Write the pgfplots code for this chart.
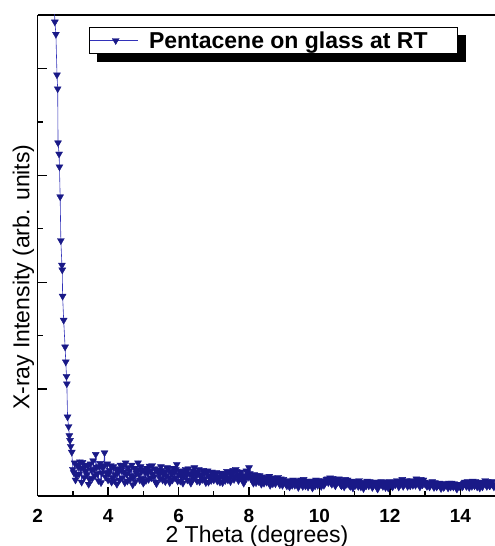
\documentclass[border=0pt]{standalone}
\usepackage{fontspec}
\setmainfont{Liberation Sans}
\usepackage{pgfplots}
\pgfplotsset{compat=1.18}

\definecolor{xrdmark}{RGB}{25,25,135}
\definecolor{xrdline}{RGB}{50,50,185}

\begin{document}
\begin{tikzpicture}
\begin{axis}[
  scale only axis, width=457pt, height=481pt,
  xmin=2, xmax=14.97, ymin=0, ymax=9,
  axis x line=box, axis y line=left,
  axis line style={-, line width=1.6pt},
  xtick={2,4,...,14}, minor x tick num=1,
  ytick={2,4,6,8}, minor y tick num=1, yticklabels={},
  xtick pos=bottom, ytick pos=left,
  tick align=inside,
  major tick length=9pt, minor tick length=5pt,
  every tick/.style={black, line width=1.4pt},
  /pgf/number format/assume math mode=true,
  x tick label style={font=\fontsize{19}{19}\selectfont\bfseries, inner ysep=1pt, yshift=-12pt},
  xlabel={2 Theta (degrees)},
  ylabel={X-ray Intensity (arb. units)},
  xlabel style={font=\fontsize{23}{23}\selectfont, inner sep=0pt, at={(axis description cs:0.48,0)}, anchor=north, yshift=-30pt},
  ylabel style={font=\fontsize{23}{23}\selectfont, at={(axis description cs:0,0.457)}, anchor=south, xshift=-1pt},
  legend style={name=legbox, at={(axis description cs:0.1125,0.975)}, anchor=north west,
    draw=black, line width=0.8pt, fill=white, inner xsep=0pt, inner ysep=2pt,
    font=\fontsize{23}{25}\selectfont\bfseries,
    /tikz/every odd column/.append style={column sep=5pt}},
  legend image code/.code={\draw[mark repeat=2, mark phase=2]
    plot coordinates {(0pt,0pt) (26pt,0pt) (48pt,0pt)}; \path (52pt,0pt);},
]
\coordinate (ll) at (rel axis cs:0,0);
\coordinate (ur) at (rel axis cs:1,1);
\addplot[color=xrdline, line width=0.6pt, mark=triangle*, mark size=4pt,
  mark options={rotate=180, fill=xrdmark, draw=xrdmark, line width=0.4pt}]
  coordinates {
  (2.45,9.70) (2.47,9.25) (2.49,8.87) (2.52,8.64) (2.55,7.88) (2.57,7.62)
  (2.58,6.61) (2.61,6.40) (2.62,6.16) (2.64,5.60) (2.66,4.78) (2.69,4.32)
  (2.70,4.23) (2.71,3.74) (2.74,3.29) (2.78,2.79) (2.80,2.51) (2.82,2.24)
  (2.83,2.10) (2.85,1.48) (2.88,1.30) (2.90,1.13) (2.92,1.04) (2.94,0.93)
  (2.97,0.82)
  (3.000,0.50) (3.025,0.44) (3.050,0.62) (3.075,0.30) (3.100,0.38) (3.125,0.58) (3.150,0.55) (3.175,0.41)
  (3.200,0.64) (3.225,0.52) (3.250,0.26) (3.275,0.63) (3.300,0.52) (3.325,0.35) (3.350,0.58) (3.375,0.47)
  (3.400,0.40) (3.425,0.56) (3.450,0.22) (3.475,0.31) (3.500,0.60) (3.525,0.49) (3.550,0.33) (3.575,0.66)
  (3.600,0.50) (3.625,0.38) (3.650,0.78) (3.675,0.54) (3.700,0.42) (3.725,0.29) (3.750,0.55) (3.775,0.61)
  (3.800,0.25) (3.825,0.43) (3.850,0.52) (3.875,0.57) (3.900,0.81) (3.925,0.36) (3.950,0.44) (3.975,0.60)
  (4.000,0.30) (4.025,0.42) (4.050,0.48) (4.075,0.57) (4.100,0.26) (4.125,0.35) (4.150,0.55) (4.175,0.29)
  (4.200,0.40) (4.225,0.51) (4.250,0.22) (4.275,0.44) (4.300,0.50) (4.325,0.30) (4.350,0.58) (4.375,0.48)
  (4.400,0.34) (4.425,0.56) (4.450,0.45) (4.475,0.25) (4.500,0.62) (4.525,0.41) (4.550,0.28) (4.575,0.53)
  (4.600,0.47) (4.625,0.31) (4.650,0.38) (4.675,0.58) (4.700,0.21) (4.725,0.36) (4.750,0.52) (4.775,0.27)
  (4.800,0.43) (4.825,0.49) (4.850,0.62) (4.875,0.40) (4.900,0.30) (4.925,0.55) (4.950,0.46) (4.975,0.33)
  (5.000,0.24) (5.025,0.50) (5.050,0.44) (5.075,0.29) (5.100,0.52) (5.125,0.43) (5.150,0.31) (5.175,0.56)
  (5.200,0.47) (5.225,0.34) (5.250,0.57) (5.275,0.41) (5.300,0.36) (5.325,0.51) (5.350,0.26) (5.375,0.23)
  (5.400,0.49) (5.425,0.45) (5.450,0.40) (5.475,0.33) (5.500,0.55) (5.525,0.48) (5.550,0.30) (5.575,0.40)
  (5.600,0.45) (5.625,0.27) (5.650,0.38) (5.675,0.53) (5.700,0.50) (5.725,0.35) (5.750,0.25) (5.775,0.46)
  (5.800,0.42) (5.825,0.30) (5.850,0.52) (5.875,0.44) (5.900,0.34) (5.925,0.50) (5.950,0.59) (5.975,0.28)
  (6.000,0.40) (6.025,0.47) (6.050,0.28) (6.075,0.37) (6.100,0.46) (6.125,0.24) (6.150,0.36) (6.175,0.44)
  (6.200,0.50) (6.225,0.40) (6.250,0.30) (6.275,0.51) (6.300,0.42) (6.325,0.29) (6.350,0.24) (6.375,0.39)
  (6.400,0.47) (6.425,0.33) (6.450,0.53) (6.475,0.45) (6.500,0.38) (6.525,0.28) (6.550,0.44) (6.575,0.50)
  (6.600,0.27) (6.625,0.36) (6.650,0.40) (6.675,0.31) (6.700,0.48) (6.725,0.43) (6.750,0.33) (6.775,0.25)
  (6.800,0.42) (6.825,0.47) (6.850,0.26) (6.875,0.35) (6.900,0.38) (6.925,0.29) (6.950,0.45) (6.975,0.41)
  (7.000,0.30) (7.025,0.34) (7.050,0.40) (7.075,0.44) (7.100,0.28) (7.125,0.31) (7.150,0.36) (7.175,0.26)
  (7.200,0.43) (7.225,0.38) (7.250,0.25) (7.275,0.42) (7.300,0.34) (7.325,0.29) (7.350,0.40) (7.375,0.46)
  (7.400,0.30) (7.425,0.35) (7.450,0.45) (7.475,0.27) (7.500,0.38) (7.525,0.42) (7.550,0.48) (7.575,0.31)
  (7.600,0.36) (7.625,0.50) (7.650,0.46) (7.675,0.38) (7.700,0.29) (7.725,0.33) (7.750,0.40) (7.775,0.45)
  (7.800,0.33) (7.825,0.37) (7.850,0.24) (7.875,0.30) (7.900,0.38) (7.925,0.47) (7.950,0.44) (7.975,0.35)
  (8.000,0.53) (8.025,0.42) (8.050,0.36) (8.075,0.31) (8.100,0.28) (8.125,0.24) (8.150,0.40) (8.175,0.35)
  (8.200,0.25) (8.225,0.38) (8.250,0.33) (8.275,0.27) (8.300,0.38) (8.325,0.32) (8.350,0.22) (8.375,0.36)
  (8.400,0.30) (8.425,0.24) (8.450,0.35) (8.475,0.33) (8.500,0.26) (8.525,0.29) (8.550,0.31) (8.575,0.37)
  (8.600,0.20) (8.625,0.26) (8.650,0.34) (8.675,0.23) (8.700,0.28) (8.725,0.33) (8.750,0.23) (8.775,0.29)
  (8.800,0.30) (8.825,0.35) (8.850,0.25) (8.875,0.21) (8.900,0.32) (8.925,0.28) (8.950,0.20) (8.975,0.31)
  (9.000,0.27) (9.025,0.26) (9.050,0.22) (9.075,0.19) (9.100,0.28) (9.125,0.29) (9.150,0.17) (9.175,0.23)
  (9.200,0.25) (9.225,0.20) (9.250,0.30) (9.275,0.26) (9.300,0.20) (9.325,0.29) (9.350,0.24) (9.375,0.21)
  (9.400,0.16) (9.425,0.25) (9.450,0.27) (9.475,0.30) (9.500,0.22) (9.525,0.18) (9.550,0.31) (9.575,0.25)
  (9.600,0.19) (9.625,0.28) (9.650,0.25) (9.675,0.17) (9.700,0.21) (9.725,0.24) (9.750,0.28) (9.775,0.22)
  (9.800,0.15) (9.825,0.28) (9.850,0.24) (9.875,0.19) (9.900,0.30) (9.925,0.25) (9.950,0.20) (9.975,0.29)
  (10.000,0.26) (10.025,0.22) (10.050,0.18) (10.075,0.27) (10.100,0.29) (10.125,0.20) (10.150,0.23) (10.175,0.26)
  (10.200,0.31) (10.225,0.32) (10.250,0.25) (10.275,0.28) (10.300,0.34) (10.325,0.25) (10.350,0.22) (10.375,0.33)
  (10.400,0.30) (10.425,0.26) (10.450,0.19) (10.475,0.23) (10.500,0.27) (10.525,0.29) (10.550,0.32) (10.575,0.25)
  (10.600,0.21) (10.625,0.19) (10.650,0.28) (10.675,0.27) (10.700,0.17) (10.725,0.31) (10.750,0.26) (10.775,0.22)
  (10.800,0.30) (10.825,0.27) (10.850,0.20) (10.875,0.18) (10.900,0.24) (10.925,0.28) (10.950,0.15) (10.975,0.25)
  (11.000,0.23) (11.025,0.20) (11.050,0.27) (11.075,0.24) (11.100,0.18) (11.125,0.29) (11.150,0.25) (11.175,0.17)
  (11.200,0.21) (11.225,0.25) (11.250,0.14) (11.275,0.22) (11.300,0.24) (11.325,0.19) (11.350,0.28) (11.375,0.25)
  (11.400,0.19) (11.425,0.27) (11.450,0.23) (11.475,0.21) (11.500,0.16) (11.525,0.19) (11.550,0.26) (11.575,0.24)
  (11.600,0.21) (11.625,0.26) (11.650,0.13) (11.675,0.19) (11.700,0.22) (11.725,0.24) (11.750,0.27) (11.775,0.21)
  (11.800,0.18) (11.825,0.26) (11.850,0.24) (11.875,0.16) (11.900,0.20) (11.925,0.23) (11.950,0.15) (11.975,0.27)
  (12.000,0.23) (12.025,0.22) (12.050,0.19) (12.075,0.17) (12.100,0.26) (12.125,0.24) (12.150,0.21) (12.175,0.27)
  (12.200,0.29) (12.225,0.22) (12.250,0.17) (12.275,0.20) (12.300,0.24) (12.325,0.27) (12.350,0.31) (12.375,0.18)
  (12.400,0.22) (12.425,0.23) (12.450,0.26) (12.475,0.29) (12.500,0.18) (12.525,0.21) (12.550,0.25) (12.575,0.19)
  (12.600,0.29) (12.625,0.26) (12.650,0.20) (12.675,0.23) (12.700,0.27) (12.725,0.20) (12.750,0.32) (12.775,0.28)
  (12.800,0.23) (12.825,0.25) (12.850,0.17) (12.875,0.31) (12.900,0.26) (12.925,0.21) (12.950,0.30) (12.975,0.26)
  (13.000,0.22) (13.025,0.24) (13.050,0.18) (13.075,0.20) (13.100,0.25) (13.125,0.17) (13.150,0.21) (13.175,0.23)
  (13.200,0.27) (13.225,0.20) (13.250,0.16) (13.275,0.25) (13.300,0.22) (13.325,0.17) (13.350,0.19) (13.375,0.21)
  (13.400,0.24) (13.425,0.19) (13.450,0.14) (13.475,0.23) (13.500,0.21) (13.525,0.16) (13.550,0.18) (13.575,0.22)
  (13.600,0.23) (13.625,0.19) (13.650,0.15) (13.675,0.24) (13.700,0.20) (13.725,0.17) (13.750,0.24) (13.775,0.20)
  (13.800,0.17) (13.825,0.23) (13.850,0.21) (13.875,0.16) (13.900,0.13) (13.925,0.22) (13.950,0.19) (13.975,0.18)
  (14.000,0.22) (14.025,0.21) (14.050,0.17) (14.075,0.19) (14.100,0.24) (14.125,0.26) (14.150,0.20) (14.175,0.18)
  (14.200,0.27) (14.225,0.22) (14.250,0.16) (14.275,0.25) (14.300,0.23) (14.325,0.18) (14.350,0.28) (14.375,0.22)
  (14.400,0.19) (14.425,0.27) (14.450,0.25) (14.475,0.17) (14.500,0.21) (14.525,0.23) (14.550,0.15) (14.575,0.20)
  (14.600,0.26) (14.625,0.17) (14.650,0.22) (14.675,0.25) (14.700,0.29) (14.725,0.22) (14.750,0.18) (14.775,0.27)
  (14.800,0.24) (14.825,0.19) (14.850,0.20) (14.875,0.23) (14.900,0.27) (14.925,0.21) (14.950,0.17) (14.975,0.25)
  (15.000,0.23)
  };
\addlegendentry{Pentacene on glass at RT\hspace*{28pt}}
\end{axis}
% legend shadow: bottom and right strips
\fill[black] ([xshift=8pt]legbox.south west) rectangle ([xshift=8pt,yshift=-8pt]legbox.south east);
\fill[black] ([yshift=-8pt]legbox.north east) rectangle ([xshift=8pt]legbox.south east);
\pgfresetboundingbox
\path ([xshift=-37.6pt,yshift=-50pt]ll) rectangle ([yshift=15pt]ur);
\end{tikzpicture}
\end{document}
